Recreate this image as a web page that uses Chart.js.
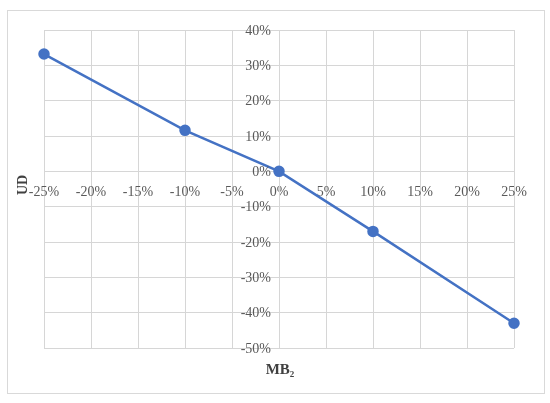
<!DOCTYPE html>
<html>
<head>
<meta charset="utf-8">
<script src="https://cdn.jsdelivr.net/npm/chart.js@4/dist/chart.umd.min.js"></script>
<style>
  html, body { margin: 0; padding: 0; background: #fff; }
  #wrap { position: relative; width: 550px; height: 403px; }
  #frame { position: absolute; left: 7px; top: 10px; width: 536px; height: 382px; border: 1px solid #d9d9d9; box-sizing: content-box; }
  canvas { position: absolute; left: 0; top: 0; }
</style>
</head>
<body>
<div id="wrap">
  <div id="frame"></div>
  <canvas id="c" width="550" height="403"></canvas>
</div>
<script>
const mbValues = [-25, -10, 0, 10, 25];
const udValues = [33.2, 11.6, 0, -17.0, -43.0];
const xTickValues = [-25, -20, -15, -10, -5, 0, 5, 10, 15, 20, 25];
const yTickValues = [-50, -40, -30, -20, -10, 0, 10, 20, 30, 40];
const xTitle = 'MB₂';
const yTitle = 'UD';

const points = mbValues.map((x, i) => ({ x: x, y: udValues[i] }));
const serif = '"Liberation Serif", "Times New Roman", serif';

const titlePlugin = {
  id: 'axisTitles',
  afterDraw(chart) {
    const ctx = chart.ctx;
    const xs = chart.scales.x, ys = chart.scales.y;
    ctx.save();
    ctx.fillStyle = '#595959';
    ctx.font = '14px ' + serif;
    ctx.textAlign = 'right';
    ctx.textBaseline = 'middle';
    const axisX = xs.getPixelForValue(0);
    yTickValues.forEach(v => {
      ctx.fillText(v + '%', axisX - 8, ys.getPixelForValue(v) + 1);
    });
    ctx.fillStyle = '#404040';
    ctx.font = 'bold 15px ' + serif;
    ctx.textAlign = 'center';
    ctx.fillText(xTitle, 280, 370);
    ctx.translate(23, 185);
    ctx.rotate(-Math.PI / 2);
    ctx.font = 'bold 14px ' + serif;
    ctx.fillText(yTitle, 0, 0);
    ctx.restore();
  }
};

const gridColor = '#d6d6d6';
const tickFont = { family: serif, size: 14 };

new Chart(document.getElementById('c'), {
  type: 'scatter',
  data: {
    datasets: [{
      data: points,
      showLine: true,
      clip: false,
      borderColor: '#4472C4',
      backgroundColor: '#4472C4',
      borderWidth: 2.5,
      pointRadius: 4.5,
      pointHoverRadius: 4.5,
      tension: 0
    }]
  },
  options: {
    responsive: false,
    animation: false,
    layout: { padding: { left: 44, right: 36, top: 30, bottom: 55 } },
    plugins: { legend: { display: false }, tooltip: { enabled: false } },
    scales: {
      x: {
        type: 'linear',
        position: { y: 0 },
        min: -25, max: 25,
        afterBuildTicks(scale) { scale.ticks = xTickValues.map(v => ({ value: v })); },
        grid: { color: gridColor, lineWidth: 1, tickLength: 8, tickColor: gridColor },
        border: { color: gridColor, width: 1 },
        ticks: { color: '#595959', font: tickFont, padding: 5, maxRotation: 0, autoSkip: false,
                 callback: v => v + '%' }
      },
      y: {
        type: 'linear',
        position: { x: 0 },
        min: -50, max: 40,
        afterBuildTicks(scale) { scale.ticks = yTickValues.map(v => ({ value: v })); },
        grid: { color: gridColor, lineWidth: 1, tickLength: 8, tickColor: gridColor },
        border: { color: gridColor, width: 1 },
        ticks: { display: false, autoSkip: false }
      }
    }
  },
  plugins: [titlePlugin]
});
</script>
</body>
</html>
